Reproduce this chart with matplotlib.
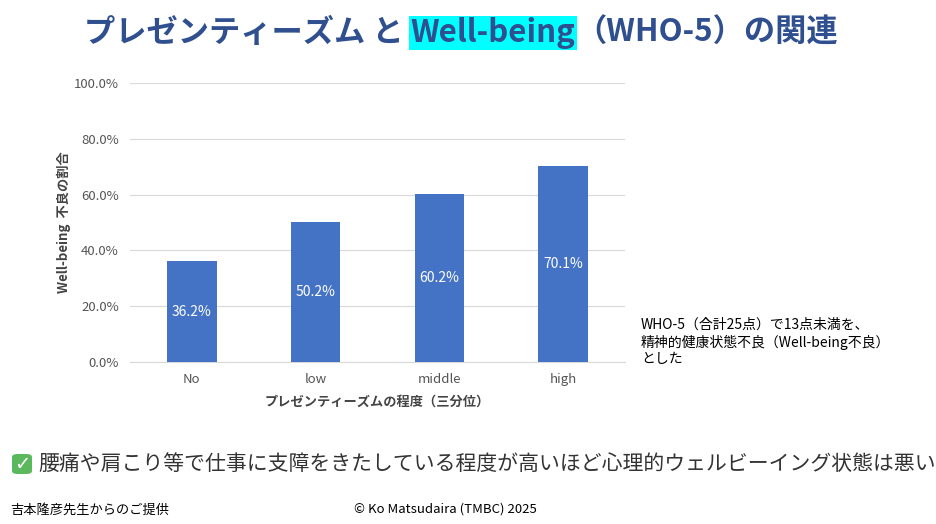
import matplotlib
matplotlib.use("Agg")
import matplotlib.pyplot as plt
from matplotlib.patches import FancyBboxPatch

plt.rcParams["font.family"] = ["Noto Sans CJK JP", "DejaVu Sans"]

categories = ["No", "low", "middle", "high"]
values = [36.2, 50.2, 60.2, 70.1]
yticks = [0, 20, 40, 60, 80, 100]

W, H = 936, 524
fig = plt.figure(figsize=(W/100, H/100), dpi=100)
ax = fig.add_axes([130/W, 1-362/H, 495/W, (362-83)/H])
x = range(len(categories))
ax.bar(x, values, width=0.4, color="#4472C4", zorder=3)
for i, v in zip(x, values):
    ax.text(i, v/2, f"{v:.1f}%", ha="center", va="center", color="white", fontsize=10, zorder=4)
ax.set_xlim(-0.5, 3.5)
ax.set_ylim(0, 100)
ax.set_yticks(yticks)
ax.set_yticklabels([f"{t:.1f}%" for t in yticks], color="#555555", fontsize=9.5)
ax.set_xticks(list(x))
ax.set_xticklabels(categories, color="#555555", fontsize=9.5)
ax.grid(axis="y", color="#D9D9D9", lw=0.8, zorder=0)
for s in ["top", "right", "left"]:
    ax.spines[s].set_visible(False)
ax.spines["bottom"].set_color("#D9D9D9")
ax.tick_params(length=0, pad=8)
ax.set_xlabel("プレゼンティーズムの程度（三分位）", fontsize=9.5, fontweight="bold", color="#444444", labelpad=6)
ax.set_ylabel("Well-being  不良の割合", fontsize=9.5, fontweight="bold", color="#444444", labelpad=2)

# title in pieces
tc = "#2F4F8F"
fig.canvas.draw()
r = fig.canvas.get_renderer()
parts = [("プレゼンティーズム と ", None), ("Well-being", "#00FFFF"), ("（WHO-5）の関連", None)]
texts = []
for s, bg in parts:
    t = fig.text(0, 1-33/H, s, fontsize=22.5, fontweight="bold", color=tc, va="center")
    if bg:
        t.set_bbox(dict(facecolor=bg, edgecolor="none", pad=1))
    texts.append(t)
widths = [t.get_window_extent(r).width for t in texts]
total = sum(widths)
start = 461 - total/2
for t, w in zip(texts, widths):
    t.set_x(start/W)
    start += w

fig.text(641/W, 1-342/H, "WHO-5（合計25点）で13点未満を、\n精神的健康状態不良（Well-being不良）\nとした",
         fontsize=10, va="center", ha="left", color="black", linespacing=1.2)

cb = FancyBboxPatch((12/W, 1-474/H), 20/W, 20/H, boxstyle="round,pad=0,rounding_size=0.006",
                    transform=fig.transFigure, facecolor="#5CB85C", edgecolor="none")
fig.patches.append(cb)
fig.text(22/W, 1-464/H, "✓", fontsize=14, color="white", fontweight="bold", ha="center", va="center",
         fontfamily="DejaVu Sans")
fig.text(38/W, 1-464/H, "腰痛や肩こり等で仕事に支障をきたしている程度が高いほど心理的ウェルビーイング状態は悪い",
         fontsize=15, va="center", color="#333333")
fig.text(10/W, 1-510/H, "吉本隆彦先生からのご提供", fontsize=9.5, va="center", color="black")
fig.text(445/W, 1-509/H, "© Ko Matsudaira (TMBC) 2025", fontsize=9.5, va="center", ha="center", color="black")

fig.savefig("out.png", dpi=100)
